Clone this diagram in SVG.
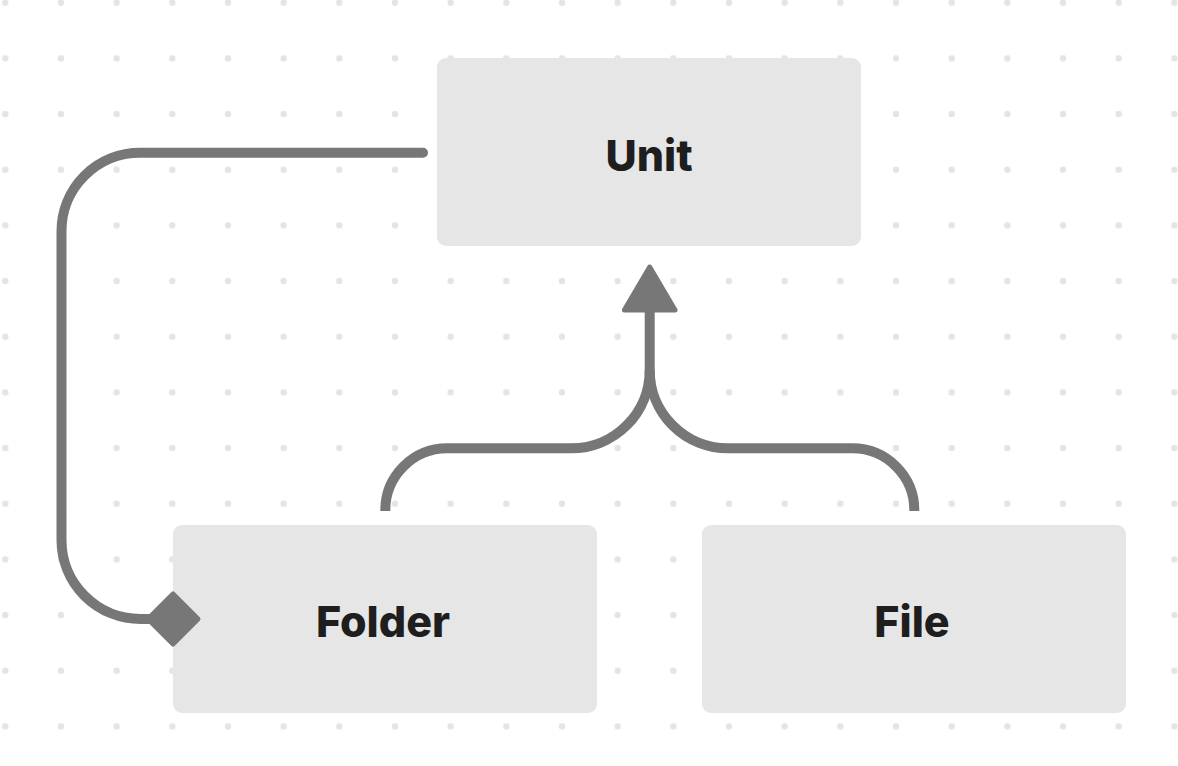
<svg xmlns="http://www.w3.org/2000/svg" width="1178" height="766" viewBox="0 0 1178 766">
  <defs>
    <pattern id="dots" x="0" y="0" width="55.67" height="55.67" patternUnits="userSpaceOnUse" patternTransform="translate(5.3 2.7)">
      <circle cx="0" cy="0" r="3.2" fill="#e4e4e4"/>
      <circle cx="55.67" cy="0" r="3.2" fill="#e4e4e4"/>
      <circle cx="0" cy="55.67" r="3.2" fill="#e4e4e4"/>
      <circle cx="55.67" cy="55.67" r="3.2" fill="#e4e4e4"/>
    </pattern>
    <style>
      .box { fill: #e6e6e6; }
      .label { font-family: Inter, "Liberation Sans", sans-serif; font-weight: 800; font-size: 43px; fill: #1e1e1e; text-anchor: middle; }
      .conn { fill: none; stroke: #777777; stroke-width: 10; }
      .head { fill: #777777; stroke: #777777; stroke-width: 5; stroke-linejoin: round; }
    </style>
  </defs>
  <rect width="1178" height="766" fill="#ffffff"/>
  <rect width="1178" height="766" fill="url(#dots)"/>

  <g id="node-unit">
    <rect class="box" x="437" y="58" width="424" height="188" rx="9"/>
    <text class="label" x="649" y="170.5">Unit</text>
  </g>
  <g id="node-folder">
    <rect class="box" x="173" y="525" width="424" height="188" rx="9"/>
    <text class="label" x="383" y="636.7">Folder</text>
  </g>
  <g id="node-file">
    <rect class="box" x="702" y="525" width="424" height="188" rx="9"/>
    <text class="label" x="912" y="636.7">File</text>
  </g>

  <g id="connectors">
    <path class="conn" stroke-linecap="round" d="M 423 152.7 L 140 152.7 A 78.5 78.5 0 0 0 61.5 231.2 L 61.5 540 A 79 79 0 0 0 140.5 619 L 160 619"/>
    <path class="head" d="M 173 594 L 198 619 L 173 644 L 148 619 Z"/>
    <path class="conn" d="M 385.3 511 A 62 62 0 0 1 447.3 448.3 L 571.5 448.3 A 78.3 78.3 0 0 0 649.7 370 L 649.7 305"/>
    <path class="conn" d="M 914.3 511 A 62 62 0 0 0 852.3 448.3 L 728 448.3 A 78.3 78.3 0 0 1 649.7 370"/>
    <path class="head" d="M 649.7 267 L 675 310 L 624.4 310 Z"/>
  </g>
</svg>
